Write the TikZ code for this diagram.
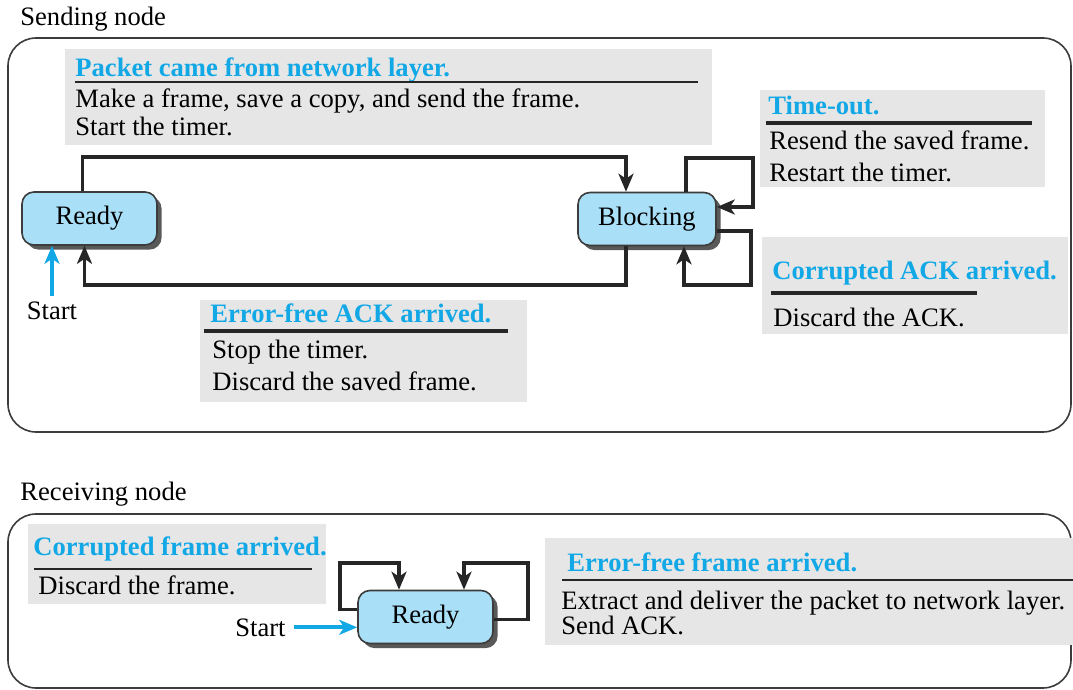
\documentclass[tikz,border=0pt]{standalone}
\usepackage{fontspec}
\setmainfont{Liberation Serif}
\usetikzlibrary{calc,fit,arrows.meta,shadows}
\tikzset{
    lab/.style={
        font=\fontsize{13.3}{15}\selectfont
    }
}

\begin{document}
\begin{tikzpicture}[x=0.5pt,y=-0.5pt]
    \definecolor{fsm-blue}{HTML}{12A8E6}
    \definecolor{fsm-fill}{HTML}{A9DFF7}
    \definecolor{fsm-gray}{HTML}{E6E6E6}
    \definecolor{fsm-frame}{HTML}{3C3C3C}

    \tikzset{
      state/.style={
        draw=fsm-frame,
        line width=0.8pt,
        fill=fsm-fill,
        rounded corners=6pt,
        minimum height=26.5pt,
        lab,
        drop shadow={shadow xshift=2.3pt, shadow yshift=-2.3pt, fill=black!65, opacity=1}
      },
      evbox/.style={
        fill=fsm-gray,
        inner sep=0pt
      },
      evtitle/.style={
        font=\fontsize{13.3}{15}\selectfont\bfseries,
        text=fsm-blue,
        anchor=base west,
        inner sep=0pt
      },
      evtext/.style={
        lab,
        anchor=base west,
        inner sep=0pt
      },
      rulethin/.style={
        line width=0.7pt,
        draw=black!85
      },
      rulethick/.style={
        line width=1.8pt,
        draw=black!85
      },
      trans/.style={
        -{Stealth[length=9pt,width=7.5pt,inset=2.5pt]},
        line width=1.9pt,
        draw=black!85
      },
      startarr/.style={
        -{Stealth[length=9pt,width=7.5pt,inset=2.5pt]},
        line width=1.9pt,
        draw=fsm-blue
      },
      frame/.style={
        draw=fsm-frame,
        line width=0.8pt,
        rounded corners=14pt
      }
    }

    \useasboundingbox (0,0) rectangle (1073,690);

    \node[lab, anchor=base west, inner sep=0pt] (sendlab) at (20,26) {Sending node};
    \draw[frame] (8,38) rectangle (1071,432);

    \node[evbox, fit={(65,49) (712,145)}] (pktbox) {};
    \node[evtitle] (pkttitle) at (75,77) {Packet came from network layer.};
    \draw[rulethin] (75,82) -- (698,82);
    \node[evtext] (pkt1) at (75,108) {Make a frame, save a copy, and send the frame.};
    \node[evtext] (pkt2) at (75,136) {Start the timer.};

    \node[evbox, fit={(760,90) (1045,187)}] (tobox) {};
    \node[evtitle] (totitle) at (768,115) {Time-out.};
    \draw[rulethick] (766,123) -- (1032,123);
    \node[evtext] (to1) at (769,150) {Resend the saved frame.};
    \node[evtext] (to2) at (769,182) {Restart the timer.};

    \node[evbox, fit={(762,237) (1068,334)}] (cackbox) {};
    \node[evtitle] (cacktitle) at (772,280) {Corrupted ACK arrived.};
    \draw[rulethick] (771,293) -- (977,293);
    \node[evtext] (cack1) at (773,327) {Discard the ACK.};

    \node[evbox, fit={(200,300) (527,402)}] (eackbox) {};
    \node[evtitle] (eacktitle) at (210,322) {Error-free ACK arrived.};
    \draw[rulethick] (204,331) -- (508,331);
    \node[evtext] (eack1) at (212,358) {Stop the timer.};
    \node[evtext] (eack2) at (212,391) {Discard the saved frame.};

    \node[state, minimum width=67.5pt] (sready) at (89.5,218.5) {Ready};
    \node[state, minimum width=69pt] (blocking) at (647,219) {Blocking};

    \draw[trans] ([xshift=-3.5pt]sready.north) -- ++(0,-34) -| ([xshift=-10.5pt]blocking.north);
    \draw[trans] ([xshift=-10.5pt]blocking.south) -- ++(0,38.5) -| ([xshift=-2.5pt]sready.south);
    \draw[trans] ([xshift=19.5pt]blocking.north) -- ++(0,-33.5) -| (753,207) -- ([yshift=6pt]blocking.east);
    \draw[trans] ([yshift=-6pt]blocking.east) -| (751,285) -| ([xshift=18.5pt]blocking.south);

    \node[lab, anchor=base, inner sep=0pt] (sstart) at (52,320) {Start};
    \draw[startarr] ([yshift=3pt]sstart.north) -- (sstart.north |- sready.south);

    \node[lab, anchor=base west, inner sep=0pt] (recvlab) at (20,501) {Receiving node};
    \draw[frame] (8,514) rectangle (1071,688);

    \node[evbox, fit={(28,524) (326,604)}] (cfrbox) {};
    \node[evtitle] (cfrtitle) at (33,555) {Corrupted frame arrived.};
    \draw[rulethin] (34,569) -- (312,569);
    \node[evtext] (cfr1) at (38,594) {Discard the frame.};

    \node[evbox, fit={(545,538) (1073,645)}] (efrbox) {};
    \node[evtitle] (efrtitle) at (567,571) {Error-free frame arrived.};
    \draw[rulethin] (562,580) -- (1073,580);
    \node[evtext] (efr1) at (561,609) {Extract and deliver the packet to network layer.};
    \node[evtext] (efr2) at (561,634) {Send ACK.};

    \node[state, minimum width=67.5pt] (rready) at (425.5,617) {Ready};

    \draw[trans] ([yshift=3.75pt]rready.west) -| (340,563) -| ([xshift=-13.25pt]rready.north);
    \draw[trans] ([yshift=-1.25pt]rready.east) -| (528,563) -| ([xshift=19.25pt]rready.north);

    \node[lab, anchor=base east, inner sep=0pt] (rstart) at (286,636) {Start};
    \draw[startarr] ([xshift=4pt]rstart.east) -- (rstart.east -| rready.west);
  \end{tikzpicture}
\end{document}
